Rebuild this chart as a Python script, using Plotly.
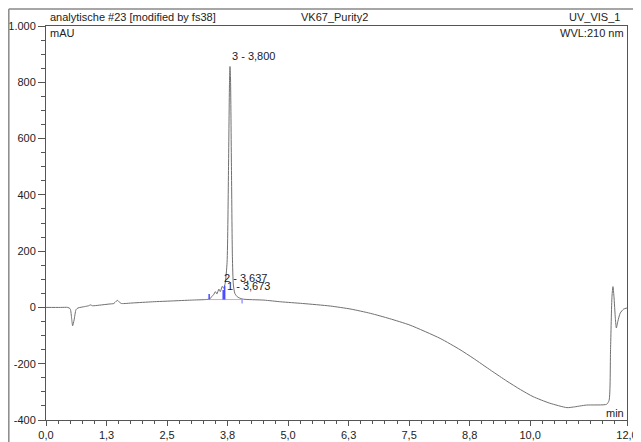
import plotly.graph_objects as go

# chromatogram trace (min, mAU)
time_min = [
    0.00, 0.30, 0.45, 0.50, 0.53, 0.55, 0.58, 0.62, 0.66, 0.80, 0.88, 0.92, 0.96,
    1.10, 1.30, 1.40, 1.45, 1.48, 1.52, 1.56, 1.80, 2.20, 2.60, 3.00, 3.30, 3.38,
    3.42, 3.46, 3.50, 3.53, 3.57, 3.60, 3.64, 3.67, 3.70, 3.74, 3.77, 3.79, 3.80,
    3.81, 3.83, 3.85, 3.87, 3.90, 3.95, 4.05, 4.50, 4.85, 5.30, 5.87, 6.30, 6.70,
    7.10, 7.52, 8.14, 8.55, 8.82, 9.20, 9.52, 9.80, 10.06, 10.40, 10.76, 10.89,
    11.16, 11.58, 11.63, 11.66, 11.69, 11.71, 11.73, 11.76, 11.78, 11.81, 11.86,
    11.93, 12.00,
]
signal_mau = [
    0, 0, 0, -5, -40, -65, -45, -8, -2, 3, 6, 9, 6,
    8, 12, 14, 22, 25, 18, 14, 16, 20, 23, 26, 28, 30,
    38, 45, 56, 48, 65, 56, 75, 68, 85, 160, 500, 800, 856,
    820, 500, 180, 80, 50, 38, 30, 26, 20, 14, 5, -6, -21,
    -40, -63, -110, -150, -180, -225, -262, -292, -317, -340, -356, -354,
    -347, -344, -330, -150, 40, 74, 40, -40, -73, -50, -20,
    -6, -2,
]

# integration markers
baseline_t = [3.35, 4.05]
baseline_y = [28, 28]
marker_t = [3.37, 3.37, None, 3.66, 3.66, None, 3.69, 3.69]
marker_y = [28, 48, None, 28, 62, None, 28, 77]
end_t = [4.05, 4.05]
end_y = [32, 14]

peak_labels = ["3 - 3,800", "2 - 3,637", "1 - 3,673"]
peak_label_t = [3.80, 3.64, 3.69]
peak_label_y = [895, 105, 77]

x_ticks = [0, 1.25, 2.5, 3.75, 5, 6.25, 7.5, 8.75, 10, 12]
x_ticktext = ["0,0", "1,3", "2,5", "3,8", "5,0", "6,3", "7,5", "8,8", "10,0", "12,0"]
y_ticks = [-400, -200, 0, 200, 400, 600, 800, 1000]
y_ticktext = ["-400", "-200", "0", "200", "400", "600", "800", "1.000"]

FONT = "Liberation Sans, Arial, sans-serif"
AXIS = "#555555"

fig = go.Figure()
fig.add_trace(go.Scatter(x=time_min, y=signal_mau, mode="lines",
                         line=dict(color="#707070", width=1, shape="spline", smoothing=0.6),
                         hoverinfo="skip"))
fig.add_trace(go.Scatter(x=baseline_t, y=baseline_y, mode="lines",
                         line=dict(color="#ff9aa8", width=1), hoverinfo="skip"))
fig.add_trace(go.Scatter(x=marker_t, y=marker_y, mode="lines",
                         line=dict(color="#4a4aff", width=1.5), hoverinfo="skip"))
fig.add_trace(go.Scatter(x=end_t, y=end_y, mode="lines",
                         line=dict(color="#9a9aff", width=1.5), hoverinfo="skip"))

annotations = []
for txt, t, v in zip(peak_labels, peak_label_t, peak_label_y):
    annotations.append(dict(x=t, y=v, text=txt, showarrow=False, xanchor="left",
                            yanchor="middle", font=dict(size=11, color="#1a1a2a")))

header_y = (420 - 17) / 394
annotations += [
    dict(x=0.004, y=header_y, xref="paper", yref="paper", text="analytische #23 [modified by fs38]",
         showarrow=False, xanchor="left", yanchor="middle"),
    dict(x=0.496, y=header_y, xref="paper", yref="paper", text="VK67_Purity2",
         showarrow=False, xanchor="center", yanchor="middle"),
    dict(x=0.991, y=header_y, xref="paper", yref="paper", text="UV_VIS_1",
         showarrow=False, xanchor="right", yanchor="middle"),
    dict(x=0.004, y=0.982, xref="paper", yref="paper", text="mAU",
         showarrow=False, xanchor="left", yanchor="middle"),
    dict(x=0.998, y=0.982, xref="paper", yref="paper", text="WVL:210 nm",
         showarrow=False, xanchor="right", yanchor="middle"),
    dict(x=0.998, y=0.018, xref="paper", yref="paper", text="min",
         showarrow=False, xanchor="right", yanchor="middle"),
]

# page body has an 8px margin, so the figure is sized to fit the window from there
fig.update_layout(
    width=633, height=434,
    margin=dict(l=38, r=14, t=18, b=22),
    paper_bgcolor="white", plot_bgcolor="white",
    font=dict(family=FONT, size=11, color="#222222"),
    showlegend=False,
    annotations=annotations,
    shapes=[
        dict(type="line", xref="paper", yref="paper", x0=-0.064, x1=1.03,
             y0=1.043, y1=1.043, line=dict(color="#888888", width=1.5)),
        dict(type="line", xref="paper", yref="paper", x0=-0.064, x1=-0.064,
             y0=1.043, y1=-0.06, line=dict(color="#888888", width=1.5)),
    ],
    xaxis=dict(
        range=[0, 12], tickmode="array", tickvals=x_ticks, ticktext=x_ticktext,
        ticks="outside", ticklen=5, tickcolor=AXIS, showline=True, linecolor=AXIS,
        mirror=True, showgrid=False, zeroline=False, automargin=False,
        minor=dict(dtick=0.25, tick0=0, ticks="outside", ticklen=3, tickcolor=AXIS, showgrid=False),
    ),
    yaxis=dict(
        range=[-400, 1000], tickmode="array", tickvals=y_ticks, ticktext=y_ticktext,
        ticks="outside", ticklen=7, tickcolor=AXIS, showline=True, linecolor=AXIS,
        mirror=True, showgrid=False, zeroline=False, automargin=False,
        minor=dict(dtick=50, tick0=0, ticks="outside", ticklen=4, tickcolor=AXIS, showgrid=False),
    ),
)

fig.write_html("out.html")
